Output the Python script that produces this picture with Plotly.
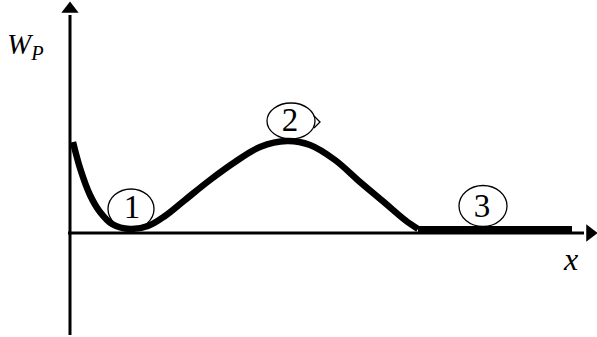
import plotly.graph_objects as go

# Potential energy curve W_P(x), control points (origin at axes crossing)
curve_x = [3, 10, 20, 30, 42, 60, 78, 95, 115, 140, 165, 190, 217, 240, 265, 290, 315, 335, 348]
curve_y = [91, 65, 38, 21, 9, 4, 7, 17, 33, 53, 71, 86, 92, 88, 73, 51, 30, 13, 4]
flat_x = [348, 502]
flat_y = [3.5, 3.5]

# balls (labels and their positions)
ball_labels = ["1", "2", "3"]
ball_x = [61, 221, 413]
ball_y = [24, 112, 27]
ball_w = [46, 48, 48]
ball_h = [40, 36, 41]
label_x = [62, 220, 412]
label_y = [23, 110, 24]

# axis extents
x_axis_span = [-2, 514]
y_axis_span = [-102, 218]

SERIF = "'Liberation Serif', 'DejaVu Serif', serif"

fig = go.Figure()
# axes
fig.add_trace(go.Scatter(x=x_axis_span, y=[0, 0], mode="lines",
                         line=dict(color="black", width=3), hoverinfo="skip"))
fig.add_trace(go.Scatter(x=[0, 0], y=y_axis_span, mode="lines",
                         line=dict(color="black", width=3), hoverinfo="skip"))
fig.add_trace(go.Scatter(x=[x_axis_span[1] + 6], y=[0], mode="markers",
                         marker=dict(symbol="triangle-right", size=15, color="black",
                                     line=dict(width=0)), hoverinfo="skip"))
fig.add_trace(go.Scatter(x=[0], y=[y_axis_span[1] + 6], mode="markers",
                         marker=dict(symbol="triangle-up", size=15, color="black",
                                     line=dict(width=0)), hoverinfo="skip"))
# curve
fig.add_trace(go.Scatter(x=curve_x, y=curve_y, mode="lines",
                         line=dict(color="black", width=6.5, shape="spline", smoothing=1.0),
                         hoverinfo="skip"))
fig.add_trace(go.Scatter(x=flat_x, y=flat_y, mode="lines",
                         line=dict(color="black", width=7), hoverinfo="skip"))

# ball labels drawn as a text trace
fig.add_trace(go.Scatter(x=label_x, y=label_y, mode="text", text=ball_labels,
                         textposition="middle center",
                         textfont=dict(family=SERIF, size=33, color="black"),
                         hoverinfo="skip"))

shapes = []
annotations = []
for bx, by, bw, bh in zip(ball_x, ball_y, ball_w, ball_h):
    shapes.append(dict(type="circle", xref="x", yref="y",
                       x0=bx - bw / 2, x1=bx + bw / 2, y0=by - bh / 2, y1=by + bh / 2,
                       line=dict(color="black", width=1.3)))

# small notch on ball 2
shapes.append(dict(type="path", xref="x", yref="y",
                   path="M 244,117 L 250,111 L 244,105",
                   line=dict(color="black", width=1.3)))

# axis labels
annotations.append(dict(x=-45, y=187, text="<i>W</i><sub><i>P</i></sub>", showarrow=False,
                        font=dict(family=SERIF, size=29, color="black"),
                        xanchor="center", yanchor="middle"))
annotations.append(dict(x=500, y=-26, text="<i>x</i>", showarrow=False,
                        font=dict(family=SERIF, size=32, color="black"),
                        xanchor="center", yanchor="middle"))

fig.update_layout(
    width=597, height=337,
    margin=dict(l=0, r=0, t=0, b=0),
    paper_bgcolor="white", plot_bgcolor="white",
    showlegend=False,
    xaxis=dict(range=[-70, 527], visible=False, fixedrange=True),
    yaxis=dict(range=[-104, 233], visible=False, fixedrange=True),
    shapes=shapes,
    annotations=annotations,
)

fig.write_html("out.html", config={"displayModeBar": False},
               post_script="document.body.style.margin='0';document.body.style.overflow='hidden';")
